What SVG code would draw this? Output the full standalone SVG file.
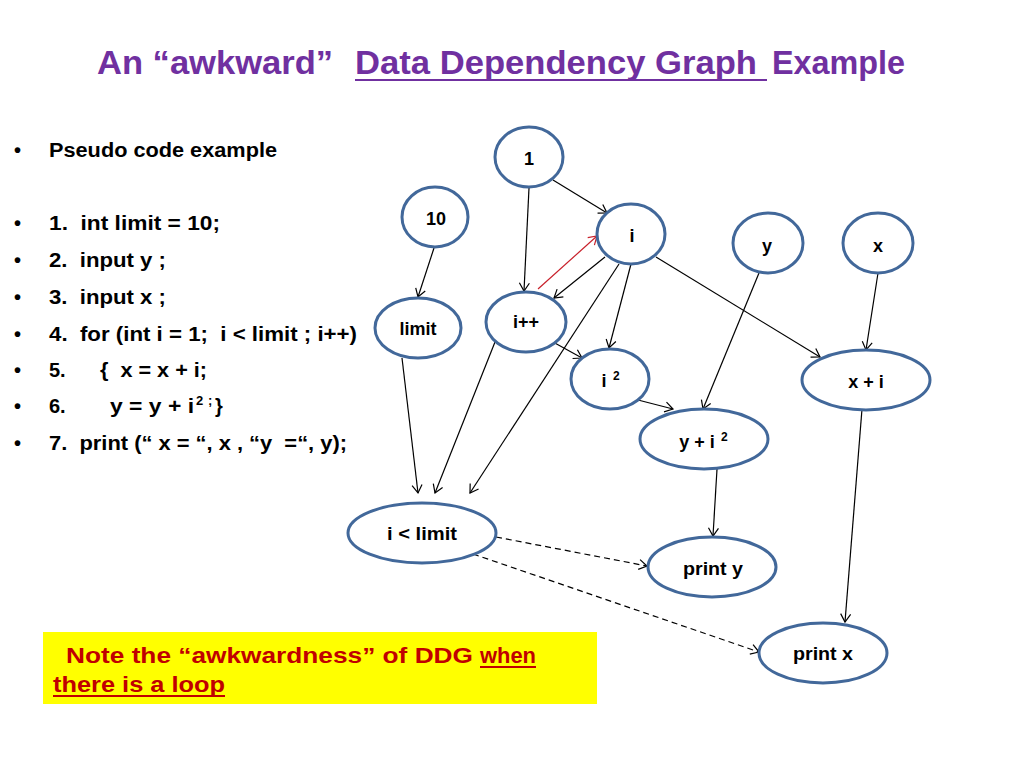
<svg xmlns="http://www.w3.org/2000/svg" width="1024" height="768" viewBox="0 0 1024 768" xml:space="preserve">
<defs>
<style>
.title{font-family:"Liberation Sans",Arial,sans-serif;font-weight:bold;font-size:34px;fill:#7030A0;white-space:pre}
.code{font-family:"Liberation Sans",Arial,sans-serif;font-weight:bold;font-size:20px;fill:#000;white-space:pre}
.sup{font-family:"Liberation Sans",Arial,sans-serif;font-weight:bold;font-size:13px;fill:#000}
.node ellipse{fill:#fff;stroke:#42689A;stroke-width:3}
.node text{font-family:"Liberation Sans",Arial,sans-serif;font-weight:bold;font-size:18px;fill:#000;text-anchor:middle;white-space:pre}
.node text.ns{font-size:12px;text-anchor:start}
.edge{stroke:#000;stroke-width:1.2;fill:none;marker-end:url(#arr)}
.dash{stroke-dasharray:6,4}
.red{stroke:#C8202A;marker-end:url(#arrRed)}
.note{font-family:"Liberation Sans",Arial,sans-serif;font-weight:bold;font-size:22px;fill:#C00000;white-space:pre}
</style>
<marker id="arr" viewBox="0 0 12 12" markerWidth="12" markerHeight="12" refX="10" refY="6" orient="auto" markerUnits="userSpaceOnUse">
<path d="M2,1 L10,6 L2,11" fill="none" stroke="#000" stroke-width="1.2"/>
</marker>
<marker id="arrRed" viewBox="0 0 12 12" markerWidth="12" markerHeight="12" refX="10" refY="6" orient="auto" markerUnits="userSpaceOnUse">
<path d="M2,1 L10,6 L2,11" fill="none" stroke="#C8202A" stroke-width="1.2"/>
</marker>
</defs>
<rect x="0" y="0" width="1024" height="768" fill="#fff"/>

<g id="title">
<text class="title" x="97" y="74" textLength="236" lengthAdjust="spacingAndGlyphs">An “awkward”</text>
<text class="title" x="355" y="74" textLength="402" lengthAdjust="spacingAndGlyphs">Data Dependency Graph</text>
<line x1="355" y1="80" x2="767" y2="80" stroke="#7030A0" stroke-width="2"/>
<text class="title" x="772" y="74" textLength="133" lengthAdjust="spacingAndGlyphs">Example</text>
</g>

<g id="code">
<text class="code" x="14" y="157">•</text>
<text class="code" x="49" y="157" textLength="228" lengthAdjust="spacingAndGlyphs">Pseudo code example</text>
<text class="code" x="14" y="230">•</text>
<text class="code" x="49" y="230" textLength="171" lengthAdjust="spacingAndGlyphs">1.  int limit = 10;</text>
<text class="code" x="14" y="267">•</text>
<text class="code" x="49" y="267" textLength="117" lengthAdjust="spacingAndGlyphs">2.  input y ;</text>
<text class="code" x="14" y="304">•</text>
<text class="code" x="49" y="304" textLength="117" lengthAdjust="spacingAndGlyphs">3.  input x ;</text>
<text class="code" x="14" y="341">•</text>
<text class="code" x="49" y="341" textLength="308" lengthAdjust="spacingAndGlyphs">4.  for (int i = 1;  i &lt; limit ; i++)</text>
<text class="code" x="14" y="377">•</text>
<text class="code" x="49" y="377">5.</text>
<text class="code" x="100" y="377" textLength="107" lengthAdjust="spacingAndGlyphs">{  x = x + i;</text>
<text class="code" x="14" y="413">•</text>
<text class="code" x="49" y="413">6.</text>
<text class="code" x="110" y="413" textLength="84" lengthAdjust="spacingAndGlyphs">y = y + i</text>
<text class="sup" x="196" y="405">2</text>
<text class="sup" x="208" y="405">;</text>
<text class="code" x="215" y="413">}</text>
<text class="code" x="14" y="450">•</text>
<text class="code" x="49" y="450" textLength="298" lengthAdjust="spacingAndGlyphs">7.  print (“ x = “, x , “y  =“, y);</text>
</g>

<g id="connectors">
<line class="edge" x1="553" y1="180" x2="607" y2="213"/>
<line class="edge" x1="529" y1="188" x2="524" y2="291"/>
<line class="edge" x1="434" y1="248" x2="418" y2="297"/>
<line class="edge red" x1="538" y1="289" x2="597" y2="236"/>
<line class="edge" x1="605" y1="257" x2="554" y2="298"/>
<line class="edge" x1="631" y1="264" x2="609" y2="348"/>
<line class="edge" x1="619" y1="264" x2="470" y2="493"/>
<line class="edge" x1="656" y1="257" x2="820" y2="357"/>
<line class="edge" x1="553" y1="342" x2="582" y2="358"/>
<line class="edge" x1="495" y1="342" x2="435" y2="493"/>
<line class="edge" x1="402" y1="358" x2="418" y2="493"/>
<line class="edge" x1="638" y1="400" x2="673" y2="409"/>
<line class="edge" x1="759" y1="273" x2="703" y2="409"/>
<line class="edge" x1="878" y1="273" x2="866" y2="350"/>
<line class="edge" x1="862" y1="409" x2="845" y2="622"/>
<line class="edge" x1="717" y1="469" x2="713" y2="536"/>
<line class="edge dash" x1="496" y1="537" x2="647" y2="566"/>
<line class="edge dash" x1="473" y1="554" x2="759" y2="652"/>
</g>

<g id="n1" class="node"><ellipse cx="529" cy="157" rx="34" ry="30"/><text x="529" y="165">1</text></g>
<g id="n10" class="node"><ellipse cx="435" cy="217" rx="33" ry="30"/><text x="436" y="225">10</text></g>
<g id="ni" class="node"><ellipse cx="631" cy="234" rx="34" ry="30"/><text x="632" y="242">i</text></g>
<g id="ny" class="node"><ellipse cx="768" cy="243" rx="35" ry="30"/><text x="767" y="252">y</text></g>
<g id="nx" class="node"><ellipse cx="878" cy="243" rx="35" ry="30"/><text x="878" y="252">x</text></g>
<g id="nlimit" class="node"><ellipse cx="418" cy="328" rx="43" ry="30"/><text x="418" y="335">limit</text></g>
<g id="nipp" class="node"><ellipse cx="526" cy="322" rx="40" ry="30"/><text x="526" y="328">i++</text></g>
<g id="ni2" class="node"><ellipse cx="610" cy="379" rx="39" ry="30"/><text x="604" y="387">i</text><text class="ns" x="613" y="380">2</text></g>
<g id="nxi" class="node"><ellipse cx="866" cy="380" rx="64" ry="30"/><text x="866" y="388">x + i</text></g>
<g id="nyi2" class="node"><ellipse cx="704" cy="439" rx="64" ry="30"/><text x="697" y="448">y + i</text><text class="ns" x="721" y="441">2</text></g>
<g id="nilimit" class="node"><ellipse cx="422" cy="533" rx="74" ry="30"/><text x="422" y="540" textLength="70" lengthAdjust="spacingAndGlyphs">i &lt; limit</text></g>
<g id="nprinty" class="node"><ellipse cx="712" cy="567" rx="64" ry="30"/><text x="713" y="575" textLength="60" lengthAdjust="spacingAndGlyphs">print y</text></g>
<g id="nprintx" class="node"><ellipse cx="823" cy="653" rx="64" ry="30"/><text x="823" y="660" textLength="60" lengthAdjust="spacingAndGlyphs">print x</text></g>

<g id="note">
<rect x="43" y="632" width="554" height="72" fill="#FFFF00"/>
<text class="note" x="66" y="663" textLength="407" lengthAdjust="spacingAndGlyphs">Note the “awkwardness” of DDG</text>
<text class="note" x="480" y="663" textLength="56" lengthAdjust="spacingAndGlyphs">when</text>
<line x1="480" y1="667" x2="536" y2="667" stroke="#C00000" stroke-width="2"/>
<text class="note" x="53" y="692" textLength="172" lengthAdjust="spacingAndGlyphs">there is a loop</text>
<line x1="53" y1="696" x2="225" y2="696" stroke="#C00000" stroke-width="2"/>
</g>
</svg>
